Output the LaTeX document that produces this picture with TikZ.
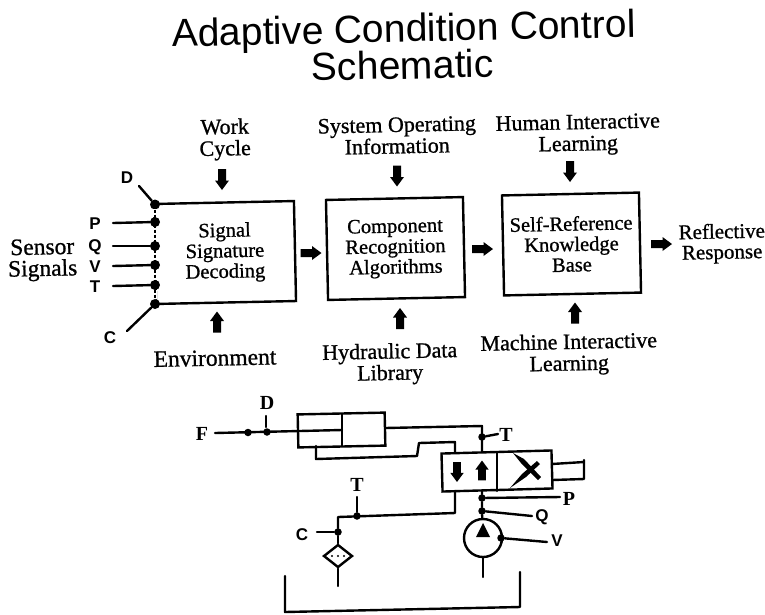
\documentclass[tikz,border=0pt]{standalone}
\usepackage{fontspec}
\usetikzlibrary{shapes.geometric}
\setmainfont{Liberation Serif}
\newfontfamily\scan[FakeBold=0.9]{Liberation Serif}
\newfontfamily\titlefont{Liberation Sans}
\newfontfamily\letterfont{Liberation Sans Bold}
\newfontfamily\letterserif{Liberation Serif Bold}
\tikzset{
  x=1pt,y=-1pt,
  line/.style={line width=2.4pt,line cap=round,line join=round},
  lbl/.style={inner sep=0pt,align=center,rotate=1.2,font=\scan\fontsize{22}{21.5}\selectfont},
  lblbig/.style={lbl,font=\scan\fontsize{23.5}{21.5}\selectfont},
  boxnode/.style={draw,line width=2.4pt,rotate=1.2,inner sep=0pt,align=center,font=\scan\fontsize{20.5}{20.5}\selectfont},
  letter/.style={inner sep=0pt,font=\letterfont\fontsize{17}{17}\selectfont},
  sletter/.style={inner sep=0pt,font=\letterserif\fontsize{20}{20}\selectfont},
  sdot/.style={circle,fill=black,inner sep=0pt,minimum size=10pt},
  mdot/.style={circle,fill=black,inner sep=0pt,minimum size=7.5pt},
  blockdown/.pic={\fill (-4,-10.5) -- (4,-10.5) -- (4,1) -- (7,1) -- (0,10.5) -- (-7,1) -- (-4,1) -- cycle;},
  partbox/.style={draw,line width=2.4pt,inner sep=0pt},
}
\begin{document}
\begin{tikzpicture}
\useasboundingbox (0,0) rectangle (765,614);
% title
\node[inner sep=0pt,anchor=base,rotate=1.2,font=\titlefont\fontsize{39}{39}\selectfont] (title1) at (404,42) {Adaptive Condition Control};
\node[inner sep=0pt,anchor=base,rotate=1.2,font=\titlefont\fontsize{39}{39}\selectfont] (title2) at (403,79) {Schematic};
% boxes
\node[boxnode,minimum width=140pt,minimum height=100pt] (b1) at (225,252.5) {Signal\\Signature\\Decoding};
\node[boxnode,minimum width=137pt,minimum height=100pt] (b2) at (395.5,248.5) {Component\\Recognition\\Algorithms};
\node[boxnode,minimum width=137pt,minimum height=100pt] (b3) at (571.5,244) {Self-Reference\\Knowledge\\Base};
% labels
\node[lbl] (work) at (225,139.5) {Work\\Cycle};
\node[lbl] (sys) at (397,135.5) {System Operating\\Information};
\node[lbl] (hum) at (578,135) {Human Interactive\\Learning};
\node[lblbig] (env) at (215,358) {Environment};
\node[lbl] (hyd) at (390,364) {Hydraulic Data\\Library};
\node[lbl] (mac) at (569,354.5) {Machine Interactive\\Learning};
\node[lbl,font=\scan\fontsize{21}{20.5}\selectfont] (ref) at (722,243.5) {Reflective\\Response};
\node[lblbig] (sen) at (42.5,260) {Sensor\\Signals};
% block arrows
\pic at (222,179.5) {blockdown};
\pic at (397,176) {blockdown};
\pic at (570,171.5) {blockdown};
\pic[rotate=180] at (217,322) {blockdown};
\pic[rotate=180] at (400,318.5) {blockdown};
\pic[rotate=180] at (575,313) {blockdown};
\pic[rotate=90] at (311,253) {blockdown};
\pic[rotate=90] at (482.5,249) {blockdown};
\pic[rotate=90] at (661.5,244) {blockdown};
% sensor bus
\node[sdot] (dD) at (155,204.5) {};
\node[sdot] (dP) at (155,222) {};
\node[sdot] (dQ) at (155,246) {};
\node[sdot] (dV) at (155,265) {};
\node[sdot] (dT) at (155,285) {};
\node[sdot] (dC) at (155,304) {};
\fill[white] (148.5,209) rectangle (157,217) (148.5,227) rectangle (157,241) (148.5,251) rectangle (157,260) (148.5,270) rectangle (157,280) (148.5,290) rectangle (157,299);
\draw[line width=1.2pt,dash pattern=on 3pt off 2pt] (dD) -- (dC);
\node[letter] (lD) at (127,178) {D};
\node[letter] (lP) at (95,224) {P};
\node[letter] (lQ) at (95,247) {Q};
\node[letter] (lV) at (95,267) {V};
\node[letter] (lT) at (95,287) {T};
\node[letter] (lC) at (110,338) {C};
\coordinate (sD) at (139,186);
\coordinate (sP) at (113,223);
\coordinate (sQ) at (113,246);
\coordinate (sV) at (113,266);
\coordinate (sT) at (113,286);
\coordinate (sC) at (127,331);
\draw[line] (sD) -- (dD);
\draw[line] (sP) -- (dP);
\draw[line] (sQ) -- (dQ);
\draw[line] (sV) -- (dV);
\draw[line] (sT) -- (dT);
\draw[line] (sC) -- (dC);
% cylinder
\node[partbox,rotate=1.2,minimum width=87pt,minimum height=33pt] (cyl) at (341.5,430) {};
\coordinate (pistT) at (342,414);
\coordinate (pistB) at (342,446);
\coordinate (pistM) at (342,430);
\draw[line] (pistT) -- (pistB);
\node[sletter] (lF) at (202,434) {F};
\node[sletter] (lD2) at (267,403) {D};
\coordinate (sF) at (215,433);
\node[mdot] (dF) at (248,432.5) {};
\node[mdot] (dD2) at (267,432) {};
\coordinate (tD) at (266,416);
\coordinate (tDe) at (266,427);
\draw[line] (tD) -- (tDe);
\draw[line] (sF) -- (pistM);
% valve
\node[partbox,rotate=1.6,minimum width=110pt,minimum height=38pt] (valve) at (497,471) {};
\coordinate (divT) at (497,452);
\coordinate (divB) at (497,491);
\draw[line] (divT) -- (divB);
\pic[scale=.95] at (457,472) {blockdown};
\pic[rotate=180,scale=.95] at (482,470.5) {blockdown};
\fill (513,453) -- (524,459) -- (541,477) -- (538,480) -- (521,463) -- cycle;
\fill (510,488) -- (522,474) -- (537,461) -- (540,464) -- (526,477) -- cycle;
% spool
\coordinate (sp1) at (552,464);
\coordinate (sp2) at (584,462);
\coordinate (sp3) at (584,479);
\coordinate (sp4) at (552,480);
\coordinate (sp5) at (584,460);
\draw[line] (sp1) -- (sp2);
\draw[line] (sp5) -- (sp3) -- (sp4);
% upper lines
\coordinate (c1) at (385,428);
\coordinate (c2) at (482,426);
\coordinate (c3) at (482,452);
\node[mdot] (dT2) at (482,437) {};
\draw[line] (c1) -- (c2) -- (c3);
\coordinate (sT2) at (498,434);
\draw[line] (dT2) -- (sT2);
\node[sletter] (lT2) at (506,435) {T};
\coordinate (e1) at (316,446);
\coordinate (e2) at (316,459);
\coordinate (e3) at (417,456);
\coordinate (e4) at (419,443);
\coordinate (e5) at (455,442);
\coordinate (e6) at (455,452);
\draw[line] (e1) -- (e2) -- (e3) -- (e4) -- (e5) -- (e6);
% return line and filter
\coordinate (r1) at (455,491);
\coordinate (r2) at (455,513);
\coordinate (r3) at (338,517);
\node[mdot] (dT3) at (357,516) {};
\node[mdot] (dC3) at (338,532) {};
\draw[line] (r1) -- (r2) -- (r3) -- (dC3);
\node[sletter] (lT3) at (357,485) {T};
\coordinate (sT3) at (357,497);
\draw[line] (sT3) -- (dT3);
\node[letter] (lC3) at (302,535) {C};
\coordinate (sC3) at (317,532);
\draw[line] (sC3) -- (dC3);
\node[draw,diamond,line width=2.4pt,inner sep=0pt,minimum width=29pt,minimum height=23pt] (filter) at (338,556) {};
\draw[line] (dC3) -- (filter);
\coordinate (fe) at (338,586);
\draw[line] (filter) -- (fe);
\fill (332,556) circle (1.2pt) (338,556) circle (1.2pt) (344,556) circle (1.2pt);
% pump
\node[draw,circle,line width=2.4pt,inner sep=0pt,minimum size=38pt] (pump) at (483,538) {};
\fill (483,523) -- (490,537) -- (476,537) -- cycle;
\node[mdot] (dP4) at (482,498) {};
\node[mdot] (dQ4) at (482,511) {};
\node[mdot] (dV4) at (501,538) {};
\coordinate (vb) at (482,491);
\draw[line] (vb) -- (dP4) -- (dQ4) -- (pump);
\coordinate (sP4) at (560,497);
\coordinate (sQ4) at (532,516);
\coordinate (sV4) at (547,542);
\draw[line] (dP4) -- (sP4);
\draw[line] (dQ4) -- (sQ4);
\draw[line] (dV4) -- (sV4);
\node[sletter] (lP4) at (569,499) {P};
\node[letter] (lQ4) at (542,517) {Q};
\node[letter] (lV4) at (557,541) {V};
\coordinate (pe) at (483,577);
\draw[line] (pump) -- (pe);
% tank
\coordinate (t1) at (285,576);
\coordinate (t2) at (285,612);
\coordinate (t3) at (520,607);
\coordinate (t4) at (520,572);
\draw[line] (t1) -- (t2) -- (t3) -- (t4);
\end{tikzpicture}
\end{document}
